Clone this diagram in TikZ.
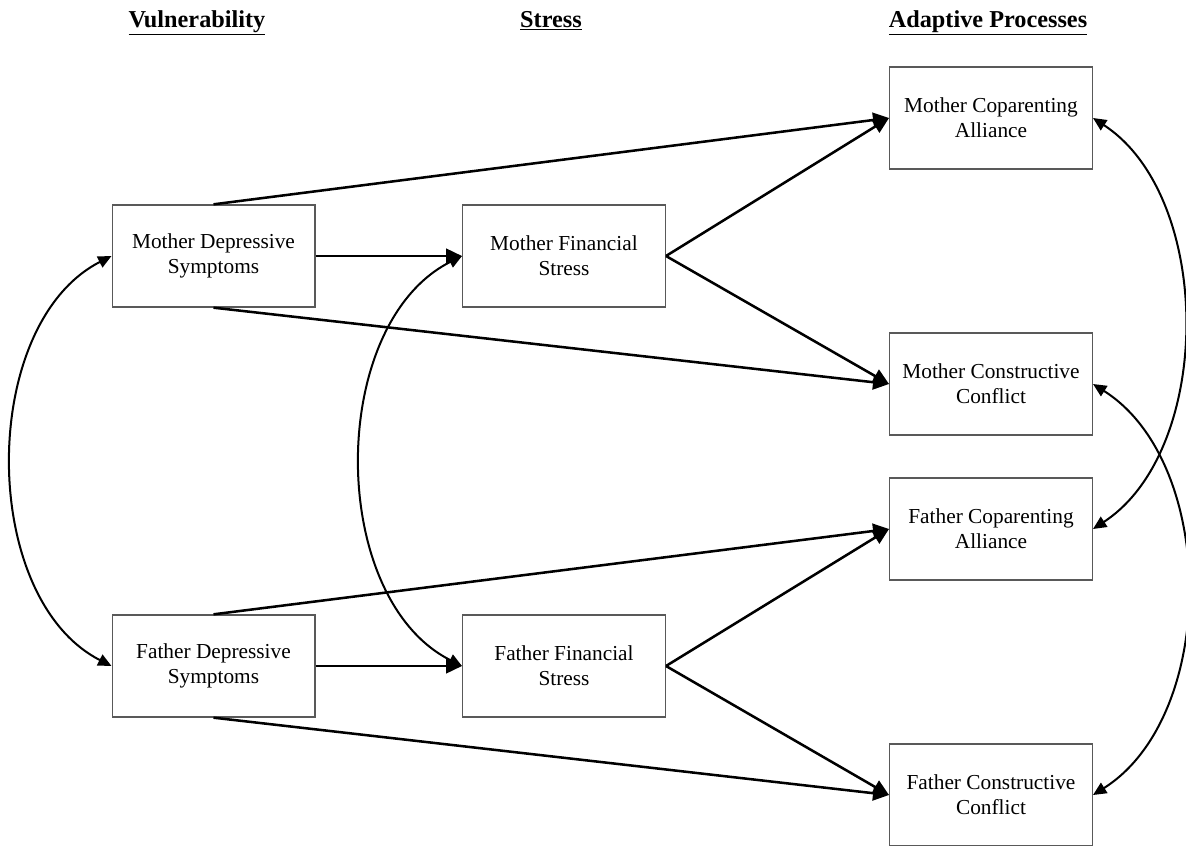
\documentclass[tikz,border=0pt]{standalone}
\usepackage{fontspec}
\setmainfont{Liberation Serif}
\usetikzlibrary{arrows.meta}
\definecolor{boxgray}{gray}{0.35}

\begin{document}
\begin{tikzpicture}[x=0.75pt,y=-0.75pt,
  var/.style={draw=boxgray,line width=1pt,minimum width=152pt,minimum height=76.5pt,
    inner sep=0pt,align=center,font=\fontsize{16}{18.75}\selectfont},
  head/.style={anchor=base,font=\fontsize{18.2}{20}\selectfont\bfseries},
  effect/.style={line width=1.9pt,-{Triangle[length=12pt,width=11pt]}},
  covar/.style={line width=1.5pt,{Triangle[length=10pt,width=9pt]}-{Triangle[length=10pt,width=9pt]}}]
\useasboundingbox (0,0) rectangle (1186,846);

% the headings
\node[head] (hvul) at (197,27) {\underline{Vulnerability}};
\node[head] (hstr) at (551,27) {\underline{Stress}};
\node[head] (hada) at (988,27) {\underline{Adaptive Processes}};

% the boxes
\node[var] (mdep) at (213.5,256) {Mother Depressive\\Symptoms};
\node[var] (mfin) at (564,256) {Mother Financial\\Stress};
\node[var] (mcop) at (991,118) {Mother Coparenting\\Alliance};
\node[var] (mcon) at (991,384) {Mother Constructive\\Conflict};
\node[var] (fcop) at (991,529) {Father Coparenting\\Alliance};
\node[var] (fdep) at (213.5,666) {Father Depressive\\Symptoms};
\node[var] (ffin) at (564,666) {Father Financial\\Stress};
\node[var] (fcon) at (991,795) {Father Constructive\\Conflict};

% the paths, same for mother and father
\foreach \p in {m,f}
{
\draw[effect] (\p dep.north) -- (\p cop.west);
\draw[effect] (\p dep.east) -- (\p fin.west);
\draw[effect] (\p dep.south) -- (\p con.west);
\draw[effect] (\p fin.east) -- (\p cop.west);
\draw[effect] (\p fin.east) -- (\p con.west);
}

% the covariances
\draw[covar] (mdep.west) .. controls +(-133,68) and +(-133,-68) .. (fdep.west);
\draw[covar] (mfin.west) .. controls +(-135,68) and +(-135,-68) .. (ffin.west);
\draw[covar] (mcop.east) .. controls +(121,79) and +(121,-79) .. (fcop.east);
\draw[covar] (mcon.east) .. controls +(125,79) and +(125,-79) .. (fcon.east);
\end{tikzpicture}
\end{document}
